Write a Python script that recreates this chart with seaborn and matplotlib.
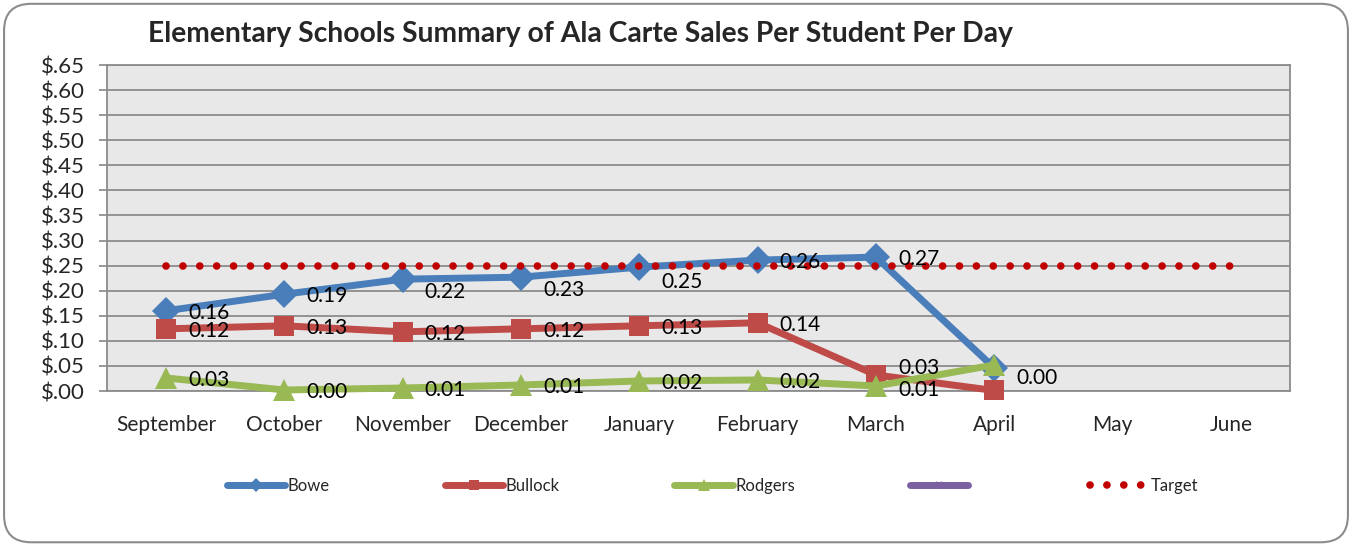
import numpy as np
import pandas as pd
import matplotlib.pyplot as plt
import seaborn as sns
from matplotlib.patches import FancyBboxPatch

sns.set_theme(style="white")
plt.rcParams["font.family"] = ["Lato", "DejaVu Sans"]

months = ["September", "October", "November", "December", "January",
          "February", "March", "April", "May", "June"]
bowe = [0.160, 0.193, 0.223, 0.227, 0.247, 0.261, 0.267, 0.046, None, None]
bullock = [0.124, 0.130, 0.118, 0.124, 0.130, 0.136, 0.032, 0.001, None, None]
rodgers = [0.026, 0.002, 0.006, 0.012, 0.020, 0.022, 0.010, 0.052, None, None]
unnamed = [None] * 10
target = [0.25] * 10
y_ticks = [0.00, 0.05, 0.10, 0.15, 0.20, 0.25, 0.30, 0.35, 0.40, 0.45, 0.50, 0.55, 0.60, 0.65]

BLUE = "#4A7EBB"
RED = "#BE4B48"
GREEN = "#98B954"
PURPLE = "#7D60A0"
DARKRED = "#C00000"

x = np.arange(len(months))

fig = plt.figure(figsize=(13.52, 5.45), dpi=100)
ax = fig.add_axes([107 / 1352, 1 - 391 / 545, (1290 - 107) / 1352, (391 - 65) / 545])
ax.set_facecolor("#E8E8E8")

series = [
    ("Bowe", bowe, BLUE, "D", 14),
    ("Bullock", bullock, RED, "s", 15),
    ("Rodgers", rodgers, GREEN, "^", 16),
]
for name, vals, col, mk, ms in series:
    v = np.array(vals, dtype=float)
    sns.lineplot(x=x, y=v, ax=ax, color=col, linewidth=5, marker=mk,
                 markersize=ms, markeredgewidth=0, label=name, sort=False,
                 zorder=3, clip_on=False)

ax.plot(x, np.array(unnamed, dtype=float), color=PURPLE, linewidth=5,
        marker="x", markersize=10, markeredgewidth=1.5, label=" ")

sns.lineplot(x=x, y=np.array(target, dtype=float), ax=ax, color=DARKRED,
             linewidth=5.5, linestyle=(0, (0.01, 2.2)), dash_capstyle="round",
             label="Target", zorder=4)

# data labels
hide = {("Bowe", "April"), ("Rodgers", "April")}
nudge = {("Bowe", "November"): -13, ("Bowe", "December"): -13,
         ("Bowe", "January"): -15, ("Bullock", "April"): 12, ("Bullock", "March"): 7,
         ("Rodgers", "March"): -4}
for name, vals, col, mk, ms in series:
    for i, v in enumerate(vals):
        if v is None or (name, months[i]) in hide:
            continue
        dy = nudge.get((name, months[i]), -2)
        ax.annotate(f"{v:.2f}", (x[i], v), xytext=(22, dy), textcoords="offset pixels",
                    ha="left", va="center", fontsize=15, color="black", zorder=5)

ax.set_xlim(-0.5, len(months) - 0.5)
ax.set_ylim(0, 0.65)
ax.set_yticks(y_ticks)
ax.set_yticklabels([f"\\${t:.2f}".replace("0.", ".") for t in y_ticks], fontsize=16)
ax.set_xticks(x)
ax.set_xticklabels(months, fontsize=15)
ax.set_xticks(np.arange(-0.5, len(months)), minor=True)
ax.tick_params(axis="x", which="major", length=0, pad=17)
ax.tick_params(axis="x", which="minor", length=6, color="#868686", width=1.2, direction="out")
ax.tick_params(axis="y", length=6, color="#868686", width=1.2, direction="out", pad=10, left=True)
ax.grid(axis="y", color="#8C8C8C", linewidth=1.3)
ax.set_axisbelow(True)
for s in ax.spines.values():
    s.set_color("#8C8C8C")
    s.set_linewidth(1.3)
ax.set_xlabel("")
ax.set_ylabel("")

handles, labels = ax.get_legend_handles_labels()
ax.get_legend().remove()
fig.legend(handles, labels, loc="center", bbox_to_anchor=(0.527, 1 - 486 / 545), ncol=5,
           frameon=False, fontsize=12, handlelength=3.5, handletextpad=0.15,
           columnspacing=6.9, markerscale=0.5)

fig.text(148 / 1352, 1 - 34 / 545, "Elementary Schools Summary of Ala Carte Sales Per Student Per Day",
         fontsize=20.3, fontweight="bold", ha="left", va="center")

fig.patches.append(FancyBboxPatch((0.003, 0.005), 0.994, 0.988, boxstyle="round,pad=0,rounding_size=0.02",
                                  transform=fig.transFigure, facecolor="none",
                                  edgecolor="#8C8C8C", linewidth=1.5, mutation_aspect=2.48))

fig.savefig("out.png", dpi=100)
